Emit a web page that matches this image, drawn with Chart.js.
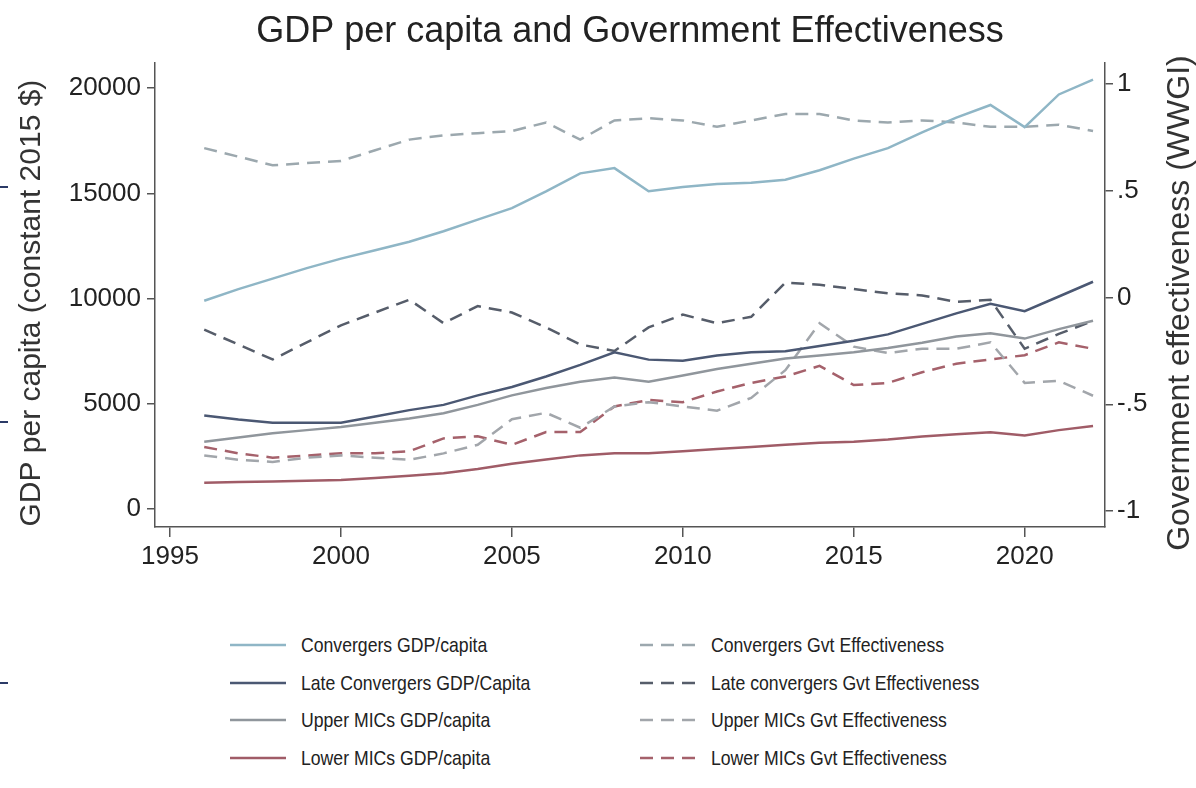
<!DOCTYPE html>
<html>
<head>
<meta charset="utf-8">
<title>GDP per capita and Government Effectiveness</title>
<script src="https://cdn.jsdelivr.net/npm/chart.js@4.4.1/dist/chart.umd.min.js"></script>
<style>
  body { margin: 0; background: #fff; width: 1196px; height: 788px; overflow: hidden;
         font-family: "Liberation Sans", Arial, sans-serif; }
  #wrap { position: absolute; left: 0; top: 0; }
  #legend { position: absolute; left: 230px; top: 626px; display: grid;
            grid-template-columns: 410px 400px; grid-template-rows: repeat(4, 37.7px);
            grid-auto-flow: column; }
  .item { display: flex; align-items: center; font-size: 21px; color: #222; white-space: nowrap; }
  .item svg { margin-right: 15px; }
  .item span { display: inline-block; transform: scaleX(0.84); transform-origin: left center; }
  .edge { position: absolute; left: 0; width: 8px; height: 2px; background: #2b3a67; }
</style>
</head>
<body>
<div class="edge" style="top:186px"></div>
<div class="edge" style="top:421px"></div>
<div class="edge" style="top:682px"></div>
<div id="wrap"><canvas id="myChart" width="1196" height="600"></canvas></div>
<div id="legend"></div>
<script>
var years = [1996, 1997, 1998, 1999, 2000, 2001, 2002, 2003, 2004, 2005, 2006, 2007, 2008, 2009,
             2010, 2011, 2012, 2013, 2014, 2015, 2016, 2017, 2018, 2019, 2020, 2021, 2022];

// GDP per capita, constant 2015 $
var convergersGdp = [9900, 10450, 10950, 11450, 11900, 12300, 12700, 13200, 13750, 14300, 15100, 15950, 16200, 15100,
                     15300, 15450, 15500, 15650, 16100, 16650, 17150, 17900, 18600, 19200, 18150, 19700, 20400];
var lateGdp = [4450, 4250, 4100, 4100, 4100, 4400, 4700, 4950, 5400, 5800, 6300, 6850, 7450, 7100,
               7050, 7300, 7450, 7500, 7750, 8000, 8300, 8800, 9300, 9750, 9400, 10100, 10800];
var upperGdp = [3200, 3400, 3600, 3750, 3900, 4100, 4300, 4550, 4950, 5400, 5750, 6050, 6250, 6050,
                6350, 6650, 6900, 7150, 7300, 7450, 7650, 7900, 8200, 8350, 8100, 8550, 8950];
var lowerGdp = [1250, 1280, 1310, 1340, 1380, 1480, 1580, 1700, 1900, 2150, 2350, 2550, 2650, 2650,
                2750, 2850, 2950, 3050, 3150, 3200, 3300, 3450, 3550, 3650, 3500, 3750, 3950];

// Government effectiveness (WWGI)
var convergersGvt = [0.70, 0.66, 0.62, 0.63, 0.64, 0.69, 0.74, 0.76, 0.77, 0.78, 0.82, 0.74, 0.83, 0.84,
                     0.83, 0.80, 0.83, 0.86, 0.86, 0.83, 0.82, 0.83, 0.82, 0.80, 0.80, 0.81, 0.78];
var lateGvt = [-0.15, -0.22, -0.29, -0.21, -0.13, -0.07, -0.01, -0.12, -0.04, -0.07, -0.14, -0.22, -0.25, -0.14,
               -0.08, -0.12, -0.09, 0.07, 0.06, 0.04, 0.02, 0.01, -0.02, -0.01, -0.24, -0.17, -0.11];
var upperGvt = [-0.74, -0.76, -0.77, -0.75, -0.74, -0.75, -0.76, -0.73, -0.69, -0.57, -0.54, -0.61, -0.51, -0.49,
                -0.51, -0.53, -0.47, -0.34, -0.12, -0.23, -0.26, -0.24, -0.24, -0.21, -0.40, -0.39, -0.46];
var lowerGvt = [-0.70, -0.73, -0.75, -0.74, -0.73, -0.73, -0.72, -0.66, -0.65, -0.69, -0.63, -0.63, -0.51, -0.48,
                -0.49, -0.44, -0.40, -0.37, -0.32, -0.41, -0.40, -0.35, -0.31, -0.29, -0.27, -0.21, -0.24];

var xTicks = [1995, 2000, 2005, 2010, 2015, 2020];
var gdpTicks = [0, 5000, 10000, 15000, 20000];
var gvtTicks = [-1, -0.5, 0, 0.5, 1];

var axisColor = '#555';
var tickFont = { family: '"Liberation Sans", Arial, sans-serif', size: 26 };

function points(vals) {
  return years.map(function (yr, i) { return { x: yr, y: vals[i] }; });
}

function series(label, vals, color, axis, dashed) {
  return {
    label: label,
    data: points(vals),
    yAxisID: axis,
    borderColor: color,
    backgroundColor: color,
    borderWidth: 2.5,
    borderDash: dashed ? [13, 8] : [],
    pointRadius: 0,
    tension: 0,
    fill: false
  };
}

function fixedTicks(list) {
  return function (scale) {
    scale.ticks = list.map(function (v) { return { value: v }; });
  };
}

// both axis titles read bottom to top, sitting a little below the plot centre
var axisTitles = {
  id: 'axisTitles',
  afterDraw: function (chart) {
    var c = chart.ctx;
    var mid = (chart.chartArea.top + chart.chartArea.bottom) / 2 + 8;
    function vtext(text, x, size) {
      c.save();
      c.translate(x, mid);
      c.rotate(-Math.PI / 2);
      c.fillStyle = '#333';
      c.font = size + 'px "Liberation Sans", Arial, sans-serif';
      c.textAlign = 'center';
      c.textBaseline = 'middle';
      c.fillText(text, 0, 0);
      c.restore();
    }
    vtext('GDP per capita (constant 2015 $)', chart.scales.yL.left + 32, 30);
    vtext('Government effectiveness (WWGI)', chart.scales.yR.right - 16, 32);
  }
};

var ctx = document.getElementById('myChart').getContext('2d');
var myChart = new Chart(ctx, {
  type: 'line',
  data: {
    datasets: [
      series('Convergers GDP/capita', convergersGdp, '#8fb6c6', 'yL', false),
      series('Late Convergers GDP/Capita', lateGdp, '#4b5873', 'yL', false),
      series('Upper MICs GDP/capita', upperGdp, '#90969c', 'yL', false),
      series('Lower MICs GDP/capita', lowerGdp, '#a05c67', 'yL', false),
      series('Convergers Gvt Effectiveness', convergersGvt, '#9ca8ae', 'yR', true),
      series('Late convergers Gvt Effectiveness', lateGvt, '#565d6a', 'yR', true),
      series('Upper MICs Gvt Effectiveness', upperGvt, '#a2a6ab', 'yR', true),
      series('Lower MICs Gvt Effectiveness', lowerGvt, '#a5616b', 'yR', true)
    ]
  },
  plugins: [axisTitles],
  options: {
    responsive: false,
    animation: false,
    layout: { padding: 0 },
    plugins: {
      legend: { display: false },
      tooltip: { enabled: false },
      title: {
        display: true,
        fullSize: false,
        text: 'GDP per capita and Government Effectiveness',
        color: '#222',
        font: { family: '"Liberation Sans", Arial, sans-serif', size: 36, weight: 'normal' },
        padding: { top: 10, bottom: 10 }
      }
    },
    scales: {
      x: {
        type: 'linear',
        min: 1994.56,
        max: 2022.35,
        afterBuildTicks: fixedTicks(xTicks),
        afterFit: function (s) { s.height = 73; },
        grid: { drawOnChartArea: false, tickLength: 10, color: axisColor, lineWidth: 1.5 },
        border: { display: true, color: axisColor, width: 1.5 },
        ticks: { color: '#222', font: tickFont, padding: 4, maxRotation: 0,
                 callback: function (v) { return String(v); } }
      },
      yL: {
        type: 'linear',
        position: 'left',
        min: -853,
        max: 21185,
        afterBuildTicks: fixedTicks(gdpTicks),
        afterFit: function (s) { s.width = 155; },
        grid: { drawOnChartArea: false, tickLength: 8, color: axisColor, lineWidth: 1.5 },
        border: { display: true, color: axisColor, width: 1.5 },
        ticks: { color: '#222', font: tickFont, padding: 6,
                 callback: function (v) { return String(v); } }
      },
      yR: {
        type: 'linear',
        position: 'right',
        min: -1.075,
        max: 1.098,
        afterBuildTicks: fixedTicks(gvtTicks),
        afterFit: function (s) { s.width = 91; },
        grid: { drawOnChartArea: false, tickLength: 8, color: axisColor, lineWidth: 1.5 },
        border: { display: true, color: axisColor, width: 1.5 },
        ticks: { color: '#222', font: tickFont, padding: 4,
                 callback: function (v) { return v === 0 ? '0' : String(v).replace('0.', '.'); } }
      }
    }
  }
});

// two-column legend: GDP lines on the left, effectiveness lines on the right
var legend = document.getElementById('legend');
myChart.data.datasets.forEach(function (ds) {
  var item = document.createElement('div');
  item.className = 'item';
  var dash = ds.borderDash.length ? ' stroke-dasharray="13 8"' : '';
  item.innerHTML = '<svg width="56" height="6"><line x1="0" y1="3" x2="56" y2="3" stroke="' +
    ds.borderColor + '" stroke-width="2.5"' + dash + '/></svg><span>' + ds.label + '</span>';
  legend.appendChild(item);
});
</script>
</body>
</html>
